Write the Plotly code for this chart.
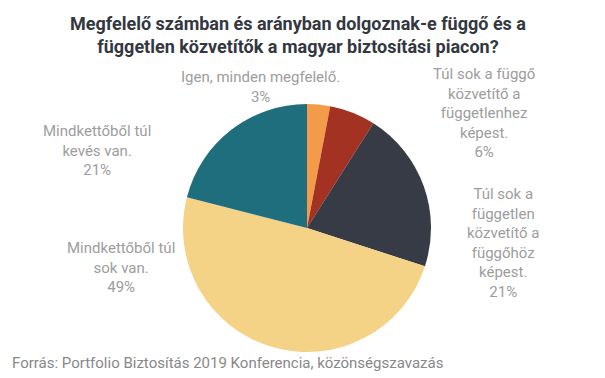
import plotly.graph_objects as go

categories = [
    "Igen, minden megfelelő.",
    "Túl sok a függő<br>közvetítő a<br>függetlenhez<br>képest.",
    "Túl sok a<br>független<br>közvetítő a<br>függőhöz<br>képest.",
    "Mindkettőből túl<br>sok van.",
    "Mindkettőből túl<br>kevés van.",
]
values = [3, 6, 21, 49, 21]
colors = ["#F39B48", "#A33222", "#363B46", "#F4D286", "#1F6E7D"]

# label anchor positions (paper coords) for each category
label_x = [0.430, 0.800, 0.831, 0.200, 0.160]
label_y = [0.771, 0.701, 0.357, 0.293, 0.603]

W, H = 605, 378

fig = go.Figure()
fig.add_trace(go.Pie(
    values=values,
    labels=[c.replace("<br>", " ") for c in categories],
    marker=dict(colors=colors, line=dict(width=0)),
    sort=False,
    direction="clockwise",
    rotation=0,
    textinfo="none",
    hoverinfo="label+percent",
    showlegend=False,
    domain=dict(x=[(307 - 124) / W, (307 + 124) / W],
                y=[(H - 228 - 124) / H, (H - 228 + 124) / H]),
))

for cat, v, x, y in zip(categories, values, label_x, label_y):
    fig.add_annotation(
        text=f"{cat}<br>{v}%",
        x=x, y=y, xref="paper", yref="paper",
        xanchor="center", yanchor="middle",
        showarrow=False, align="center",
        font=dict(family="Roboto", size=15, color="#9D9D9D"),
    )

fig.add_annotation(
    text="<b>Megfelelő számban és arányban dolgoznak-e függő és a<br>független közvetítők a magyar biztosítási piacon?</b>",
    x=297.5 / W, y=1 - 35 / H, xref="paper", yref="paper",
    xanchor="center", yanchor="middle", showarrow=False, align="center",
    font=dict(family="Roboto", size=18, color="#333740"),
)
fig.add_annotation(
    text="Forrás: Portfolio Biztosítás 2019 Konferencia, közönségszavazás",
    x=10 / W, y=1 - 363 / H, xref="paper", yref="paper",
    xanchor="left", yanchor="middle", showarrow=False,
    font=dict(family="Roboto", size=15, color="#888888"),
)

fig.update_layout(
    width=W, height=H,
    margin=dict(l=0, r=0, t=0, b=0),
    paper_bgcolor="white", plot_bgcolor="white",
)
fig.write_html("out.html", config={"displayModeBar": False},
               post_script="document.body.style.margin='0';")
